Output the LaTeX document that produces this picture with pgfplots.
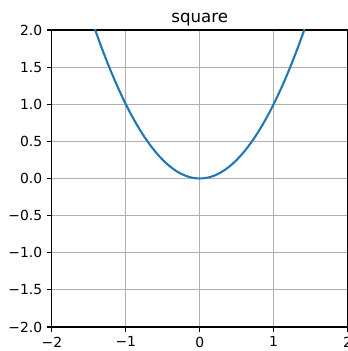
\documentclass[border=0pt]{standalone}
\usepackage{fontspec}
\setmainfont{DejaVu Sans}
\usepackage{pgfplots}
\pgfplotsset{compat=1.18}
\definecolor{mplblue}{HTML}{1F77B4}
\definecolor{mplgrid}{HTML}{B0B0B0}
\begin{document}
\begin{tikzpicture}
\begin{axis}[
  scale only axis,
  width=213pt, height=214pt,
  xmin=-2, xmax=2, ymin=-2, ymax=2,
  xtick={-2,-1,0,1,2},
  xticklabels={−2,−1,0,1,2},
  ytick={-2,-1.5,-1,-0.5,0,0.5,1,1.5,2},
  yticklabels={−2.0,−1.5,−1.0,−0.5,0.0,0.5,1.0,1.5,2.0},
  grid=major,
  major grid style={color=mplgrid, line width=0.8pt},
  axis line style={line width=0.8pt},
  tick style={black, line width=0.8pt},
  tick align=outside,
  major tick length=3.5pt,
  xtick pos=bottom, ytick pos=left,
  ticklabel style={font=\fontsize{10}{12}\selectfont},
  title={square},
  title style={font=\fontsize{12}{14}\selectfont, yshift=-6.5pt},
  clip=true,
]
\addplot[mplblue, line width=1.5pt] coordinates {
(-1.5,2.25)(-1.45,2.1025)(-1.4,1.96)(-1.35,1.8225)(-1.3,1.69)(-1.25,1.5625)
(-1.2,1.44)(-1.15,1.3225)(-1.1,1.21)(-1.05,1.1025)(-1.0,1)(-0.95,0.9025)
(-0.9,0.81)(-0.85,0.7225)(-0.8,0.64)(-0.75,0.5625)(-0.7,0.49)(-0.65,0.4225)
(-0.6,0.36)(-0.55,0.3025)(-0.5,0.25)(-0.45,0.2025)(-0.4,0.16)(-0.35,0.1225)
(-0.3,0.09)(-0.25,0.0625)(-0.2,0.04)(-0.15,0.0225)(-0.1,0.01)(-0.05,0.0025)
(0,0)
(0.05,0.0025)(0.1,0.01)(0.15,0.0225)(0.2,0.04)(0.25,0.0625)(0.3,0.09)
(0.35,0.1225)(0.4,0.16)(0.45,0.2025)(0.5,0.25)(0.55,0.3025)(0.6,0.36)
(0.65,0.4225)(0.7,0.49)(0.75,0.5625)(0.8,0.64)(0.85,0.7225)(0.9,0.81)
(0.95,0.9025)(1.0,1)(1.05,1.1025)(1.1,1.21)(1.15,1.3225)(1.2,1.44)
(1.25,1.5625)(1.3,1.69)(1.35,1.8225)(1.4,1.96)(1.45,2.1025)(1.5,2.25)
};
\end{axis}
\pgfresetboundingbox
\useasboundingbox ([xshift=-37.4pt,yshift=-17.3pt]current axis.south west) rectangle ([yshift=21.6pt]current axis.north east);
\end{tikzpicture}
\end{document}
